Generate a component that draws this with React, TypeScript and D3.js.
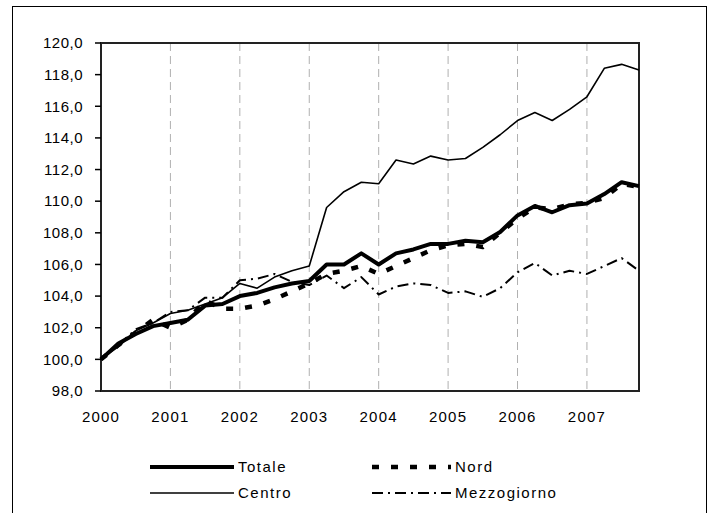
import React from "react";
import * as d3 from "d3";

const years = ["2000", "2001", "2002", "2003", "2004", "2005", "2006", "2007"];
const yTicks = [98, 100, 102, 104, 106, 108, 110, 112, 114, 116, 118, 120];

const totale = [100.0, 101.0, 101.6, 102.1, 102.3, 102.5, 103.4, 103.5, 104.0, 104.2, 104.55, 104.8, 104.95, 106.0, 106.0, 106.7,
  106.0, 106.7, 106.95, 107.3, 107.3, 107.5, 107.4, 108.05, 109.1, 109.7, 109.3, 109.75, 109.85, 110.45, 111.2, 110.95];
const nord = [100.0, 100.9, 101.7, 102.5, 102.0, 102.5, 103.7, 103.2, 103.2, 103.4, 103.8, 104.3, 104.8, 105.4, 105.6, 105.9,
  105.4, 105.9, 106.4, 106.9, 107.2, 107.3, 107.1, 108.0, 108.9, 109.6, 109.5, 109.8, 109.9, 110.2, 111.1, 110.9];
const centro = [100.0, 100.8, 101.8, 102.3, 102.9, 103.1, 103.5, 103.9, 104.8, 104.5, 105.2, 105.6, 105.9, 109.6, 110.6, 111.2,
  111.1, 112.6, 112.35, 112.85, 112.6, 112.7, 113.4, 114.2, 115.1, 115.6, 115.1, 115.8, 116.6, 118.4, 118.65, 118.3];
const mezzogiorno = [100.0, 100.9, 101.9, 102.3, 103.0, 103.1, 103.9, 103.9, 105.0, 105.1, 105.4, 104.9, 104.7, 105.3, 104.5, 105.2,
  104.1, 104.6, 104.8, 104.7, 104.2, 104.3, 103.95, 104.5, 105.5, 106.1, 105.3, 105.6, 105.4, 105.9, 106.4, 105.6];

const seriesNames = ["Totale", "Nord", "Centro", "Mezzogiorno"];

const styles: Record<string, { w: number; dash?: string }> = {
  Totale: { w: 4 },
  Nord: { w: 4.5, dash: "7,12" },
  Centro: { w: 1.6 },
  Mezzogiorno: { w: 2, dash: "11,5,2,5" },
};

export default function App() {
  const left = 101, right = 639, top = 43, bottom = 391;
  const n = totale.length;
  const x = d3.scaleLinear().domain([0, n - 1]).range([left, right]);
  const y = d3.scaleLinear().domain([98, 120]).range([bottom, top]);
  const line = d3.line<number>().x((_, i) => x(i)).y((d) => y(d));
  const data: Record<string, number[]> = { Totale: totale, Nord: nord, Centro: centro, Mezzogiorno: mezzogiorno };
  const font = "'Liberation Sans', Arial, sans-serif";
  const fmt = (v: number) => v.toFixed(1).replace(".", ",");

  const legendPos = [
    { x1: 150, x2: 234, y: 467 },
    { x1: 372, x2: 451, y: 467 },
    { x1: 150, x2: 234, y: 493 },
    { x1: 372, x2: 451, y: 493 },
  ];

  return (
    <svg width={709} height={513} style={{ position: "absolute", left: 0, top: 0, background: "#fff" }}>
      <rect x={12.5} y={6.5} width={694} height={520} fill="#fff" stroke="#000" strokeWidth={1} />
      {years.slice(1).map((yr, k) => (
        <line key={yr} x1={x((k + 1) * 4)} x2={x((k + 1) * 4)} y1={top} y2={bottom}
          stroke="#b0b0b0" strokeWidth={1} strokeDasharray="8,5" />
      ))}
      <rect x={left} y={top} width={right - left} height={bottom - top} fill="none" stroke="#222" strokeWidth={2} />
      {yTicks.map((t) => (
        <g key={t}>
          <line x1={95} x2={left} y1={y(t)} y2={y(t)} stroke="#000" strokeWidth={1.5} />
          <text x={83} y={y(t)} dy="0.35em" textAnchor="end" fontFamily={font} fontSize={15} letterSpacing={0.5}>
            {fmt(t)}
          </text>
        </g>
      ))}
      {years.map((yr, k) => (
        <text key={yr} x={x(k * 4)} y={422} textAnchor="middle" fontFamily={font} fontSize={15} letterSpacing={1.2}>
          {yr}
        </text>
      ))}
      {seriesNames.map((s) => (
        <path key={s} d={line(data[s]) || ""} fill="none" stroke="#000" strokeWidth={styles[s].w}
          strokeDasharray={styles[s].dash} strokeLinejoin="round" />
      ))}
      {seriesNames.map((s, i) => {
        const p = legendPos[i];
        return (
          <g key={s}>
            <line x1={p.x1} x2={p.x2} y1={p.y} y2={p.y} stroke="#000" strokeWidth={styles[s].w}
              strokeDasharray={styles[s].dash} />
            <text x={p.x2 + 4} y={p.y} dy="0.35em" fontFamily={font} fontSize={15} letterSpacing={1.5}>
              {s}
            </text>
          </g>
        );
      })}
    </svg>
  );
}
